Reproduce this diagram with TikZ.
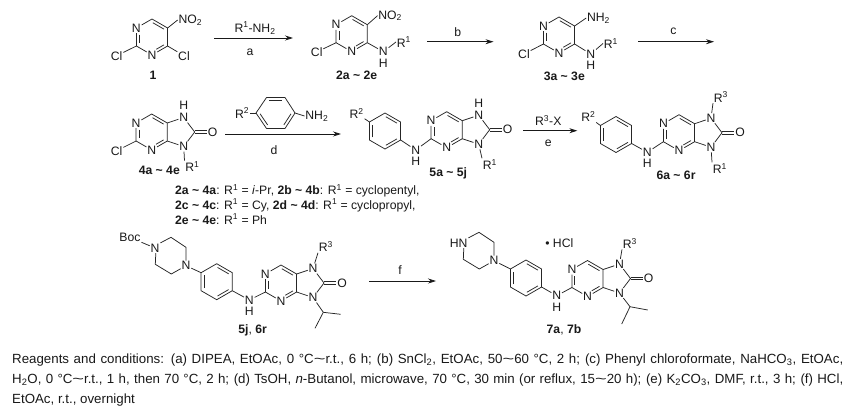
\documentclass[tikz,border=0pt]{standalone}
\usepackage{fontspec}
\setmainfont{Liberation Sans}
\usetikzlibrary{calc,arrows.meta}
\newcommand\chemsize{\fontsize{12.2}{14}\selectfont}
\newcommand\notesize{\fontsize{13.3}{20}\selectfont}
\newcommand\Rsup[1]{R\textsuperscript{#1}}
\newcommand\tld{\textasciitilde}
\newcommand\wtld{\scalebox{1.5}[1]{\textasciitilde}}
\tikzset{
  bond/.style={line width=0.75pt,draw=black!85,line join=round},
  atom/.style={inner sep=0.7pt,font=\chemsize,text=black!90},
  cmpd/.style={inner sep=0pt,font=\chemsize\bfseries,text=black!90},
  plain/.style={inner sep=0pt,font=\chemsize,text=black!90},
  note/.style={inner sep=0pt,font=\notesize,text=black!90,anchor=base west},
  rxn/.style={line width=0.75pt,draw=black!90,-{Stealth[length=8pt,width=5pt]}}
}
% inner line of a double bond: #1,#2 shortening at each end, #3,#4 ring atoms
\newcommand\dbl[4]{\draw[bond,shorten <=#1pt,shorten >=#2pt] ($(#3)!.18!(ctr)$) -- ($(#4)!.18!(ctr)$);}
\newcommand\pyrim[3]{%
  \begin{scope}[shift={(#2,#3)},name prefix=#1-]
    \coordinate (ctr) at (0,0);
    \node[atom] (n3) at (-15.6,-9) {N};
    \coordinate (c6) at (0,-18);
    \coordinate (c5) at (15.6,-9);
    \coordinate (c4) at (15.6,9);
    \node[atom] (n1) at (0,18) {N};
    \coordinate (c2) at (-15.6,9);
    \draw[bond] (n3)--(c6)--(c5)--(c4)--(n1)--(c2)--(n3);
    \dbl{5}{1}{n3}{c2}
    \dbl{1}{1}{c6}{c5}
    \dbl{1}{5}{c4}{n1}
  \end{scope}}
\newcommand\imid[3]{%
  \begin{scope}[shift={(#2,#3)},name prefix=#1-]
    \node[atom] (n7) at (32,-14.5) {N};
    \node[atom] (n9) at (32,14.5) {N};
    \coordinate (c8) at (43,0);
    \node[atom] (oxo) at (61,0) {O};
    \draw[bond] (c5)--(n7)--(c8)--(n9)--(c4);
    \draw[bond] ([yshift=1.3pt]c8)--([yshift=1.3pt]oxo.west);
    \draw[bond] ([yshift=-1.3pt]c8)--([yshift=-1.3pt]oxo.west);
  \end{scope}}
\newcommand\benz[3]{%
  \begin{scope}[shift={(#2,#3)},name prefix=#1-]
    \coordinate (ctr) at (0,0);
    \coordinate (t) at (0,-18);
    \coordinate (ur) at (15.6,-9);
    \coordinate (lr) at (15.6,9);
    \coordinate (b) at (0,18);
    \coordinate (ll) at (-15.6,9);
    \coordinate (ul) at (-15.6,-9);
    \draw[bond] (t)--(ur)--(lr)--(b)--(ll)--(ul)--cycle;
    \dbl{1}{1}{t}{ur}
    \dbl{1}{1}{lr}{b}
    \dbl{1}{1}{ll}{ul}
  \end{scope}}
\newcommand\piper[4]{%
  \begin{scope}[shift={(#2,#3)},name prefix=#1-]
    \node[atom,anchor=east] (p1) at (-10.6,-8) {#4};
    \coordinate (p2) at (0,-18.7);
    \coordinate (p3) at (15,-8.7);
    \node[atom] (p4) at (15,9.7) {N};
    \coordinate (p5) at (0.3,18);
    \coordinate (p6) at (-15.7,8.3);
    \draw[bond] (p1.north east)--(p2)--(p3)--(p4)--(p5)--(p6)--([xshift=-4.6pt]p1.south east);
  \end{scope}}
\begin{document}
\begin{tikzpicture}[x=1pt,y=-1pt]
\useasboundingbox[fill=white] (0,0) rectangle (858,408);

% ---------- compound 1
\pyrim{a}{152}{37}
\node[atom] (aCl1) at (116.7,55.7) {Cl};
\node[atom] (aCl2) at (184,55.7) {Cl};
\node[atom,anchor=west] (aNO) at (177.6,20) {NO\textsubscript{2}};
\draw[bond] (a-c2)--(aCl1);
\draw[bond] (a-c4)--(aCl2);
\draw[bond] (a-c5)--(aNO.west);
\node[cmpd] (aLab) at (153,75) {1};

% arrow a
\coordinate (aS) at (214,38); \coordinate (aE) at (293,38);
\draw[rxn] (aS)--(aE);
\node[plain] (aTop) at (255,28) {\Rsup{1}-NH\textsubscript{2}};
\node[plain] (aBot) at (250,52) {a};

% ---------- compound 2
\pyrim{b}{351.7}{33.7}
\node[atom] (bCl) at (316.7,52) {Cl};
\node[atom,anchor=west] (bNO) at (377.5,15.7) {NO\textsubscript{2}};
\node[atom] (bN) at (383.3,51.7) {N};
\node[atom] (bH) at (383.3,62.8) {H};
\node[atom,anchor=west] (bR) at (396,42) {\Rsup{1}};
\draw[bond] (b-c2)--(bCl);
\draw[bond] (b-c5)--(bNO.west);
\draw[bond] (b-c4)--(bN)--(bR.west);
\node[cmpd] (bLab) at (356.7,75) {2a \tld{} 2e};

% arrow b
\coordinate (bS) at (427,41.7); \coordinate (bE) at (493.5,41.7);
\draw[rxn] (bS)--(bE);
\node[plain] (bTop) at (457.7,32) {b};

% ---------- compound 3
\pyrim{c}{559}{35}
\node[atom] (cCl) at (524,54) {Cl};
\node[atom,anchor=west] (cNH) at (586.2,18) {NH\textsubscript{2}};
\node[atom] (cN) at (590.7,54) {N};
\node[atom] (cH) at (590.7,65) {H};
\node[atom,anchor=west] (cR) at (603,43.5) {\Rsup{1}};
\draw[bond] (c-c2)--(cCl);
\draw[bond] (c-c5)--(cNH.west);
\draw[bond] (c-c4)--(cN)--(cR.west);
\node[cmpd] (cLab) at (564.3,76) {3a \tld{} 3e};

% arrow c
\coordinate (cS) at (638,41.7); \coordinate (cE) at (714,41.7);
\draw[rxn] (cS)--(cE);
\node[plain] (cTop) at (673.3,31) {c};

% ---------- compound 4
\pyrim{d}{151.7}{132}
\imid{d}{151.7}{132}
\node[atom] (dCl) at (116.7,150.7) {Cl};
\node[atom] (dH) at (183.7,105.5) {H};
\node[atom,anchor=west] (dR) at (184.5,166.7) {\Rsup{1}};
\draw[bond] (d-c2)--(dCl);
\draw[bond] (d-n9)--(dR.north west);
\node[cmpd] (dLab) at (159.3,170) {4a \tld{} 4e};

% reagent aniline, arrow d
\coordinate (rL) at (256,113);
\coordinate (rTL) at (266.5,97.5);
\coordinate (rTR) at (285,97.5);
\coordinate (rR) at (295,113);
\coordinate (rBR) at (285,128.5);
\coordinate (rBL) at (266.5,128.5);
\coordinate (ctr) at (275.7,113);
\draw[bond] (rL)--(rTL)--(rTR)--(rR)--(rBR)--(rBL)--cycle;
\dbl{1}{1}{rTL}{rTR}
\dbl{1}{1}{rR}{rBR}
\dbl{1}{1}{rBL}{rL}
\node[atom,anchor=east] (rR2) at (250,113) {\Rsup{2}};
\node[atom,anchor=west] (rNH) at (304.5,116) {NH\textsubscript{2}};
\draw[bond] (rR2.east)--(rL);
\draw[bond] (rR)--(rNH.west);
\coordinate (dS) at (225,134); \coordinate (dE) at (341,134);
\draw[rxn] (dS)--(dE);
\node[plain] (dBot) at (274,150) {d};

% ---------- compound 5
\benz{e1}{385}{131}
\pyrim{e}{446.7}{129.7}
\imid{e}{446.7}{129.7}
\node[atom] (eR2) at (356.7,113.3) {\Rsup{2}};
\node[atom] (eN) at (415.7,150) {N};
\node[atom] (eHn) at (415.7,161) {H};
\node[atom] (eH) at (478.7,103.5) {H};
\node[atom,anchor=west] (eR) at (482,164.3) {\Rsup{1}};
\draw[bond] (eR2)--(e1-ul);
\draw[bond] (e1-lr)--(eN)--(e-c2);
\draw[bond] (e-n9)--(eR.north west);
\node[cmpd] (eLab) at (448.3,173.3) {5a \tld{} 5j};

% arrow e
\coordinate (eS) at (523.3,130.7); \coordinate (eE) at (577.3,130.7);
\draw[rxn] (eS)--(eE);
\node[plain] (eTop) at (548.3,120.7) {\Rsup{3}-X};
\node[plain] (eBot) at (548.3,143.3) {e};

% ---------- compound 6
\benz{f1}{616}{134.5}
\pyrim{f}{679}{132.7}
\imid{f}{679}{132.7}
\node[atom] (fR2) at (588.3,116.7) {\Rsup{2}};
\node[atom] (fN) at (647.3,152.3) {N};
\node[atom] (fHn) at (647.3,163.5) {H};
\node[atom,anchor=west] (fR3) at (713,97) {\Rsup{3}};
\node[atom,anchor=west] (fR1) at (712,168.3) {\Rsup{1}};
\draw[bond] (fR2)--(f1-ul);
\draw[bond] (f1-lr)--(fN)--(f-c2);
\draw[bond] (f-n7)--(fR3.south west);
\draw[bond] (f-n9)--(fR1.north west);
\node[cmpd] (fLab) at (676,175) {6a \tld{} 6r};

% ---------- substituent legend
\node[plain,anchor=base west] (leg1) at (175,194.5) {\textbf{2a \tld{} 4a}: \Rsup{1} = \textit{i}-Pr, \textbf{2b \tld{} 4b}: \Rsup{1} = cyclopentyl,};
\node[plain,anchor=base west] (leg2) at (175,209) {\textbf{2c \tld{} 4c}: \Rsup{1} = Cy, \textbf{2d \tld{} 4d}: \Rsup{1} = cyclopropyl,};
\node[plain,anchor=base west] (leg3) at (175,224) {\textbf{2e \tld{} 4e}: \Rsup{1} = Ph};

% ---------- compound 5j, 6r
\piper{g2}{171}{256}{N}
\benz{g1}{216.7}{281.7}
\pyrim{g}{281}{283}
\imid{g}{281}{283}
\node[atom] (gBoc) at (130,237.5) {Boc};
\node[atom] (gN) at (249.3,300) {N};
\node[atom] (gHn) at (249.3,311) {H};
\node[atom,anchor=west] (gR3) at (318,246.7) {\Rsup{3}};
\coordinate (gCH) at (323.3,312.3);
\coordinate (gMe1) at (340.7,314.3);
\coordinate (gMe2) at (315,328.3);
\draw[bond] (gBoc)--(g2-p1);
\draw[bond] (g2-p4)--(g1-ul);
\draw[bond] (g1-lr)--(gN)--(g-c2);
\draw[bond] (g-n7)--(gR3.south west);
\draw[bond] (g-n9)--(gCH)--(gMe1);
\draw[bond] (gCH)--(gMe2);
\node[cmpd] (gLab) at (252.7,330) {5j\textmd{,} 6r};

% arrow f
\coordinate (fS) at (369.3,281); \coordinate (fE) at (436,281);
\draw[rxn] (fS)--(fE);
\node[plain] (fTop) at (400,270) {f};

% ---------- compound 7
\piper{h2}{479}{251}{HN}
\benz{h1}{526}{278}
\pyrim{h}{587.5}{278.5}
\imid{h}{587.5}{278.5}
\node[plain] (hHCl) at (559.3,243.3) {• HCl};
\node[atom] (hN) at (556.7,295.7) {N};
\node[atom] (hHn) at (556.7,307) {H};
\node[atom,anchor=west] (hR3) at (622,243.3) {\Rsup{3}};
\coordinate (hCH) at (630,306.7);
\coordinate (hMe1) at (647.7,310);
\coordinate (hMe2) at (621.7,324);
\draw[bond] (h2-p4)--(h1-ul);
\draw[bond] (h1-lr)--(hN)--(h-c2);
\draw[bond] (h-n7)--(hR3.south west);
\draw[bond] (h-n9)--(hCH)--(hMe1);
\draw[bond] (hCH)--(hMe2);
\node[cmpd] (hLab) at (564,330) {7a\textmd{,} 7b};

% ---------- reagents and conditions
\node[note] (note1) at (12,363.3) {\makebox[831pt][s]{Reagents and conditions: (a) DIPEA, EtOAc, 0 °C\wtld{}r.t., 6 h; (b) SnCl\textsubscript{2}, EtOAc, 50\wtld{}60 °C, 2 h; (c) Phenyl chloroformate, NaHCO\textsubscript{3}, EtOAc,}};
\node[note] (note2) at (12,383.3) {\makebox[831pt][s]{H\textsubscript{2}O, 0 °C\wtld{}r.t., 1 h, then 70 °C, 2 h; (d) TsOH, \textit{n}-Butanol, microwave, 70 °C, 30 min (or reflux, 15\wtld{}20 h); (e) K\textsubscript{2}CO\textsubscript{3}, DMF, r.t., 3 h; (f) HCl,}};
\node[note] (note3) at (12,403) {EtOAc, r.t., overnight};
\end{tikzpicture}
\end{document}
